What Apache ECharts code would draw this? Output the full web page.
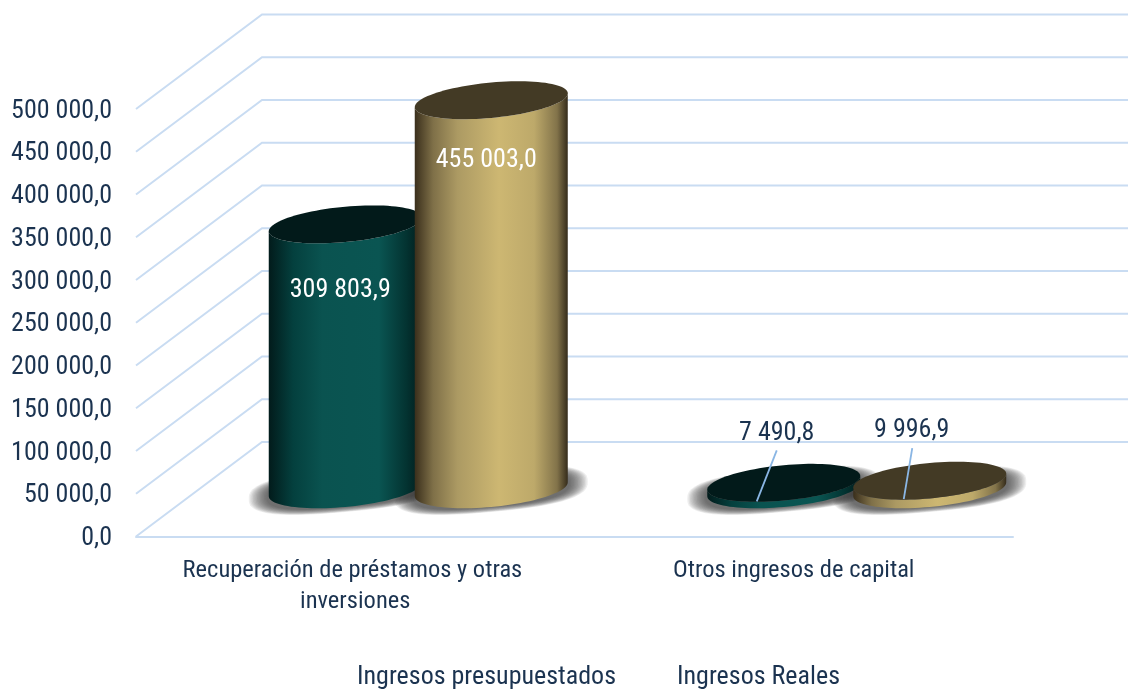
<!DOCTYPE html>
<html><head><meta charset="utf-8">
<style>html,body{margin:0;padding:0;background:#fff}#c{width:1128px;height:689px}</style>
<script src="https://cdn.jsdelivr.net/npm/echarts@6/dist/echarts.min.js"></script>
</head><body><div id="c"></div>
<script>
const categories = ['Recuperación de préstamos y otras inversiones', 'Otros ingresos de capital'];
const seriesNames = ['Ingresos presupuestados', 'Ingresos Reales'];
const presupuestados = [309803.9, 7490.8];
const reales = [455003.0, 9996.9];
const yTicks = [0, 50000, 100000, 150000, 200000, 250000, 300000, 350000, 400000, 450000, 500000];

// 3D projection and drawing settings
const DEPTH_X = 126, DEPTH_Y = 94.5;
const HALF_W = 76.5, HALF_H = 17.7, SHEAR = 0.09, SIDE_OFF = 73;
const FONT = '"Roboto Condensed","Liberation Sans",sans-serif';
const FS = 26, FS_CAT = 24.5;
const TEXT = '#1b3350', LINE = '#c9dcf2', LEADER = '#8ab6e4';
const styles = [
  { top: '#021a1a', stops: [[0,'#021b1b'],[0.16,'#04403e'],[0.35,'#0a5350'],[0.72,'#0a5552'],[0.9,'#033331'],[1,'#021c1c']] },
  { top: '#433a25', stops: [[0,'#3a2f1c'],[0.12,'#7f7048'],[0.28,'#ac9a63'],[0.55,'#cdb772'],[0.78,'#bda96a'],[0.93,'#82734a'],[1,'#352c1b']] }
];
// label placement relative to the centre of the cylinder's top face
const labelPlace = [
  [{dx:-5, dy:66, color:'#fff'}, {dx:-7, dy:-49, color:TEXT, leader:[-7,-32.5,-27,18.5]}],
  [{dx:-5, dy:60, color:'#fff'}, {dx:-18, dy:-50, color:TEXT, leader:[-17.5,-32.5,-26,18.5]}]
];

const fmt = v => {
  const [i, d] = v.toFixed(1).split('.');
  return i.replace(/\B(?=(\d{3})+$)/g, ' ') + ',' + d;
};
function ell(cx, cy, a, b, from, to, n, p) {
  const pts = [], pw = p || 1;
  const sp = x => Math.sign(x) * Math.pow(Math.abs(x), pw);
  for (let k = 0; k <= n; k++) {
    const t = from + (to - from) * k / n;
    const c = sp(Math.cos(t)), s = sp(Math.sin(t));
    pts.push([cx + a * c, cy - SHEAR * a * c + b * s]);
  }
  return pts;
}
function basePoint(api, s, ci, v) {
  const p = api.coord([ci, v]);
  return [p[0] + (s === 0 ? -SIDE_OFF : SIDE_OFF) + DEPTH_X / 2, p[1] - DEPTH_Y / 2];
}
const gridRender = (params, api) => {
  const cs = params.coordSys, y = api.coord([0, api.value(0)])[1];
  return { type: 'polyline', silent: true,
    shape: { points: [[cs.x, y], [cs.x + DEPTH_X, y - DEPTH_Y], [cs.x + cs.width + DEPTH_X, y - DEPTH_Y]] },
    style: { stroke: LINE, lineWidth: 2, fill: null } };
};
const SHADOW_STEPS = 14;
const shadowRender = s => (params, api) => {
  const c = basePoint(api, s, api.value(0), 0), children = [];
  for (let k = 0; k < SHADOW_STEPS; k++) {
    const g = k / (SHADOW_STEPS - 1);
    children.push({ type: 'polygon', silent: true,
      shape: { points: ell(c[0], c[1] + 1, HALF_W + 20 - 18 * g, HALF_H + 4 - 5 * g, 0, Math.PI * 2, 96, 0.75) },
      style: { fill: 'rgba(60,60,60,0.085)' } });
  }
  return { type: 'group', children };
};
const bodyRender = s => (params, api) => {
  const ci = api.value(0), v = api.value(1);
  const b = basePoint(api, s, ci, 0), t = basePoint(api, s, ci, v), st = styles[s];
  const side = ell(b[0], b[1], HALF_W, HALF_H, 0, Math.PI, 48)
    .concat(ell(t[0], t[1], HALF_W, HALF_H, Math.PI, 0, 48));
  return { type: 'group', children: [
    { type: 'polygon', shape: { points: side },
      style: { fill: new echarts.graphic.LinearGradient(0, 0, 1, 0, st.stops.map(x => ({ offset: x[0], color: x[1] }))) } },
    { type: 'polygon', shape: { points: ell(t[0], t[1], HALF_W, HALF_H, 0, Math.PI * 2, 96) }, style: { fill: st.top } }
  ] };
};
const labelRender = s => (params, api) => {
  const ci = api.value(0), v = api.value(1), t = basePoint(api, s, ci, v), p = labelPlace[s][ci];
  const children = [{ type: 'text', style: { x: t[0] + p.dx, y: t[1] + p.dy, text: fmt(v), fill: p.color,
    font: FS + 'px ' + FONT, align: 'center', verticalAlign: 'middle' } }];
  if (p.leader) children.push({ type: 'line',
    shape: { x1: t[0] + p.leader[0], y1: t[1] + p.leader[1], x2: t[0] + p.leader[2], y2: t[1] + p.leader[3] },
    style: { stroke: LEADER, lineWidth: 1.8 } });
  return { type: 'group', children };
};
const pairs = a => a.map((v, i) => [i, v]);
const custom = (name, z, renderItem, data) => ({ type: 'custom', name, z, renderItem, data, clip: false, animation: false,
  encode: { x: 0, y: 1 }, itemStyle: { color: name === seriesNames[1] ? styles[1].stops[4][1] : styles[0].stops[3][1] } });

const chart = echarts.init(document.getElementById('c'), null, { renderer: 'canvas' });
chart.setOption({
  animation: false,
  backgroundColor: '#fff',
  grid: { left: 136, top: 109, width: 877, height: 427.5 },
  legend: { data: seriesNames, left: 352, top: 664, padding: 0, itemWidth: 0, itemHeight: 0, itemGap: 56,
    selectedMode: false, icon: 'rect', itemStyle: { opacity: 0 },
    textStyle: { fontFamily: FONT, fontSize: FS, color: TEXT, padding: 0 } },
  xAxis: { type: 'category', data: categories, boundaryGap: true,
    axisLine: { show: true, lineStyle: { color: LINE, width: 2 } }, axisTick: { show: false },
    axisLabel: { interval: 0, margin: 19, fontFamily: FONT, fontSize: FS_CAT, color: TEXT, lineHeight: 31,
      width: 400, overflow: 'break', align: 'center' } },
  yAxis: { type: 'value', min: 0, max: 500000, interval: 50000,
    axisLine: { show: false }, axisTick: { show: false }, splitLine: { show: false },
    axisLabel: { margin: 24, fontFamily: FONT, fontSize: FS, color: TEXT, verticalAlign: 'top', lineHeight: 4, formatter: v => fmt(v) } },
  series: [
    { type: 'custom', name: 'rejilla', z: 1, renderItem: gridRender, data: yTicks.map(v => [v]), clip: false, encode: { y: 0 }, silent: true },
    custom('sombra', 2, shadowRender(0), pairs(presupuestados)),
    custom('sombra', 2, shadowRender(1), pairs(reales)),
    custom(seriesNames[0], 3, bodyRender(0), pairs(presupuestados)),
    custom(seriesNames[1], 4, bodyRender(1), pairs(reales)),
    custom('etiquetas', 5, labelRender(0), pairs(presupuestados)),
    custom('etiquetas', 5, labelRender(1), pairs(reales))
  ]
});
</script></body></html>
